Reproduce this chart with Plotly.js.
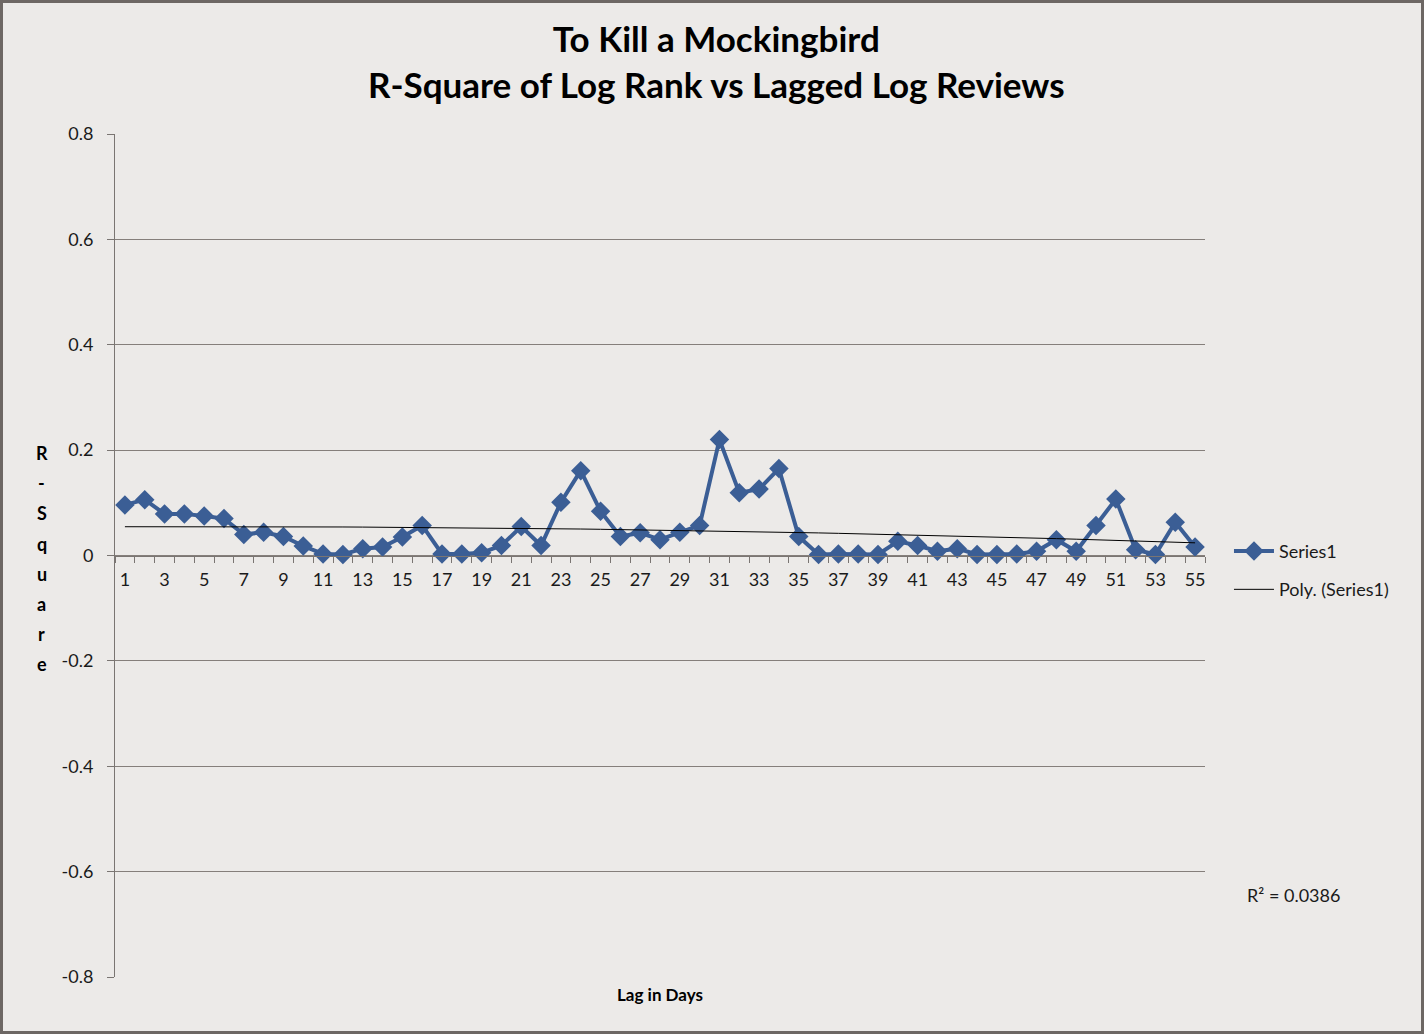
<!DOCTYPE html>
<html>
<head>
<meta charset="utf-8">
<script src="https://cdn.plot.ly/plotly-3.0.1.min.js"></script>
<style>
html,body{margin:0;padding:0;background:#ECEAE8;}
#wrap{position:relative;width:1424px;height:1034px;}
#chart{width:1424px;height:1034px;}
#frame{position:absolute;left:0;top:0;width:1424px;height:1034px;box-sizing:border-box;border:3px solid #6d6764;pointer-events:none;}
</style>
</head>
<body>
<div id="wrap"><div id="chart"></div><div id="frame"></div></div>
<script>
const lagDays = Array.from({length:55},(_,i)=>i+1);
const rSquare = [0.096,0.106,0.079,0.079,0.075,0.070,0.040,0.044,0.036,0.018,
                 0.003,0.002,0.013,0.016,0.035,0.057,0.003,0.003,0.005,0.019,
                 0.055,0.019,0.101,0.161,0.084,0.036,0.043,0.030,0.044,0.057,
                 0.220,0.119,0.126,0.165,0.036,0.002,0.003,0.003,0.002,0.027,
                 0.019,0.008,0.013,0.002,0.002,0.003,0.008,0.030,0.008,0.057,
                 0.107,0.011,0.002,0.063,0.016];
const tickLabels = lagDays.filter(d=>d%2===1);
const yTicks = [-0.8,-0.6,-0.4,-0.2,0,0.2,0.4,0.6,0.8];
const yTickText = ['-0.8','-0.6','-0.4','-0.2','0','0.2','0.4','0.6','0.8'];
const yTitleLetters = ['R','-','S','q','u','a','r','e'];
const r2Text = 'R² = 0.0386';

// order-2 polynomial trendline (least squares) from the series
function polyFit2(xs, ys){
  let S=[0,0,0,0,0], T=[0,0,0];
  for(let i=0;i<xs.length;i++){
    const x=xs[i], y=ys[i];
    let p=1;
    for(let k=0;k<5;k++){S[k]+=p; if(k<3) T[k]+=p*y; p*=x;}
  }
  const A=[[S[0],S[1],S[2],T[0]],[S[1],S[2],S[3],T[1]],[S[2],S[3],S[4],T[2]]];
  for(let c=0;c<3;c++){
    for(let r=c+1;r<3;r++){const f=A[r][c]/A[c][c]; for(let k=c;k<4;k++) A[r][k]-=f*A[c][k];}
  }
  const b=[0,0,0];
  for(let r=2;r>=0;r--){let s=A[r][3]; for(let k=r+1;k<3;k++) s-=A[r][k]*b[k]; b[r]=s/A[r][r];}
  return xs.map(x=>b[0]+b[1]*x+b[2]*x*x);
}
const trend = polyFit2(lagDays, rSquare);

const font = 'Lato, "Open Sans", sans-serif';
const traces = [
  {x:lagDays, y:rSquare, type:'scatter', mode:'lines+markers', name:'Series1', legendgroup:'a',
   line:{color:'#3B5E95', width:4},
   marker:{symbol:'diamond', size:15, color:'#3B5E95'}},
  {x:lagDays, y:trend, type:'scatter', mode:'lines', name:'Poly. (Series1)', legendgroup:'b',
   line:{color:'#000000', width:1}}
];

const plotH = 843;
const letterAnns = yTitleLetters.map((ch,i)=>({
  text:'<b>'+ch+'</b>', xref:'paper', yref:'paper',
  x:-0.067, y:(977-(453+30.2*i))/plotH, xanchor:'center', yanchor:'middle',
  showarrow:false, font:{family:font, size:18, color:'#000'}
}));

const layout = {
  width:1424, height:1034,
  paper_bgcolor:'#ECEAE8', plot_bgcolor:'#ECEAE8',
  margin:{l:115, r:219, t:134, b:57},
  font:{family:font, size:18, color:'#1a1a1a'},
  title:{text:'<b>To Kill a Mockingbird<br>R-Square of Log Rank vs Lagged Log Reviews</b>',
         font:{family:font, size:35, color:'#000'}, x:0.503, xanchor:'center', y:0.9495, yanchor:'middle'},
  showlegend:true,
  legend:{x:1.022, y:0.527, xanchor:'left', yanchor:'top', bgcolor:'rgba(0,0,0,0)',
          traceorder:'grouped', tracegroupgap:12,
          font:{family:font, size:18, color:'#1a1a1a'}, itemwidth:40},
  xaxis:{type:'linear', range:[0.5,55.5], anchor:'free', position:0.5,
         showline:true, linecolor:'#7a7572', linewidth:1,
         tickvals:tickLabels, ticktext:tickLabels.map(String), ticks:'',
         ticklabelstandoff:8,
         showgrid:false, zeroline:false,
         tickfont:{family:font, size:18, color:'#1a1a1a'},
         minor:{tick0:0.5, dtick:1, ticks:'outside', ticklen:6, tickcolor:'#7a7572', showgrid:false}},
  yaxis:{range:[-0.8,0.8], tickvals:yTicks, ticktext:yTickText,
         showline:true, linecolor:'#7a7572', linewidth:1,
         ticks:'outside', ticklen:7, tickcolor:'#7a7572',
         ticklabelstandoff:10,
         showgrid:true, gridcolor:'#857f7b', gridwidth:1, zeroline:false,
         tickfont:{family:font, size:18, color:'#1a1a1a'}},
  annotations:letterAnns.concat([
    {text:'<b>Lag in Days</b>', xref:'paper', yref:'paper', x:0.5, y:-0.021, yanchor:'middle',
     xanchor:'center', showarrow:false, font:{family:font, size:17, color:'#000'}},
    {text:r2Text, xref:'paper', yref:'paper', x:1.0365, y:0.097, xanchor:'left', yanchor:'middle',
     showarrow:false, font:{family:font, size:18, color:'#1a1a1a'}}
  ])
};
Plotly.newPlot('chart', traces, layout, {displayModeBar:false});
</script>
</body>
</html>
